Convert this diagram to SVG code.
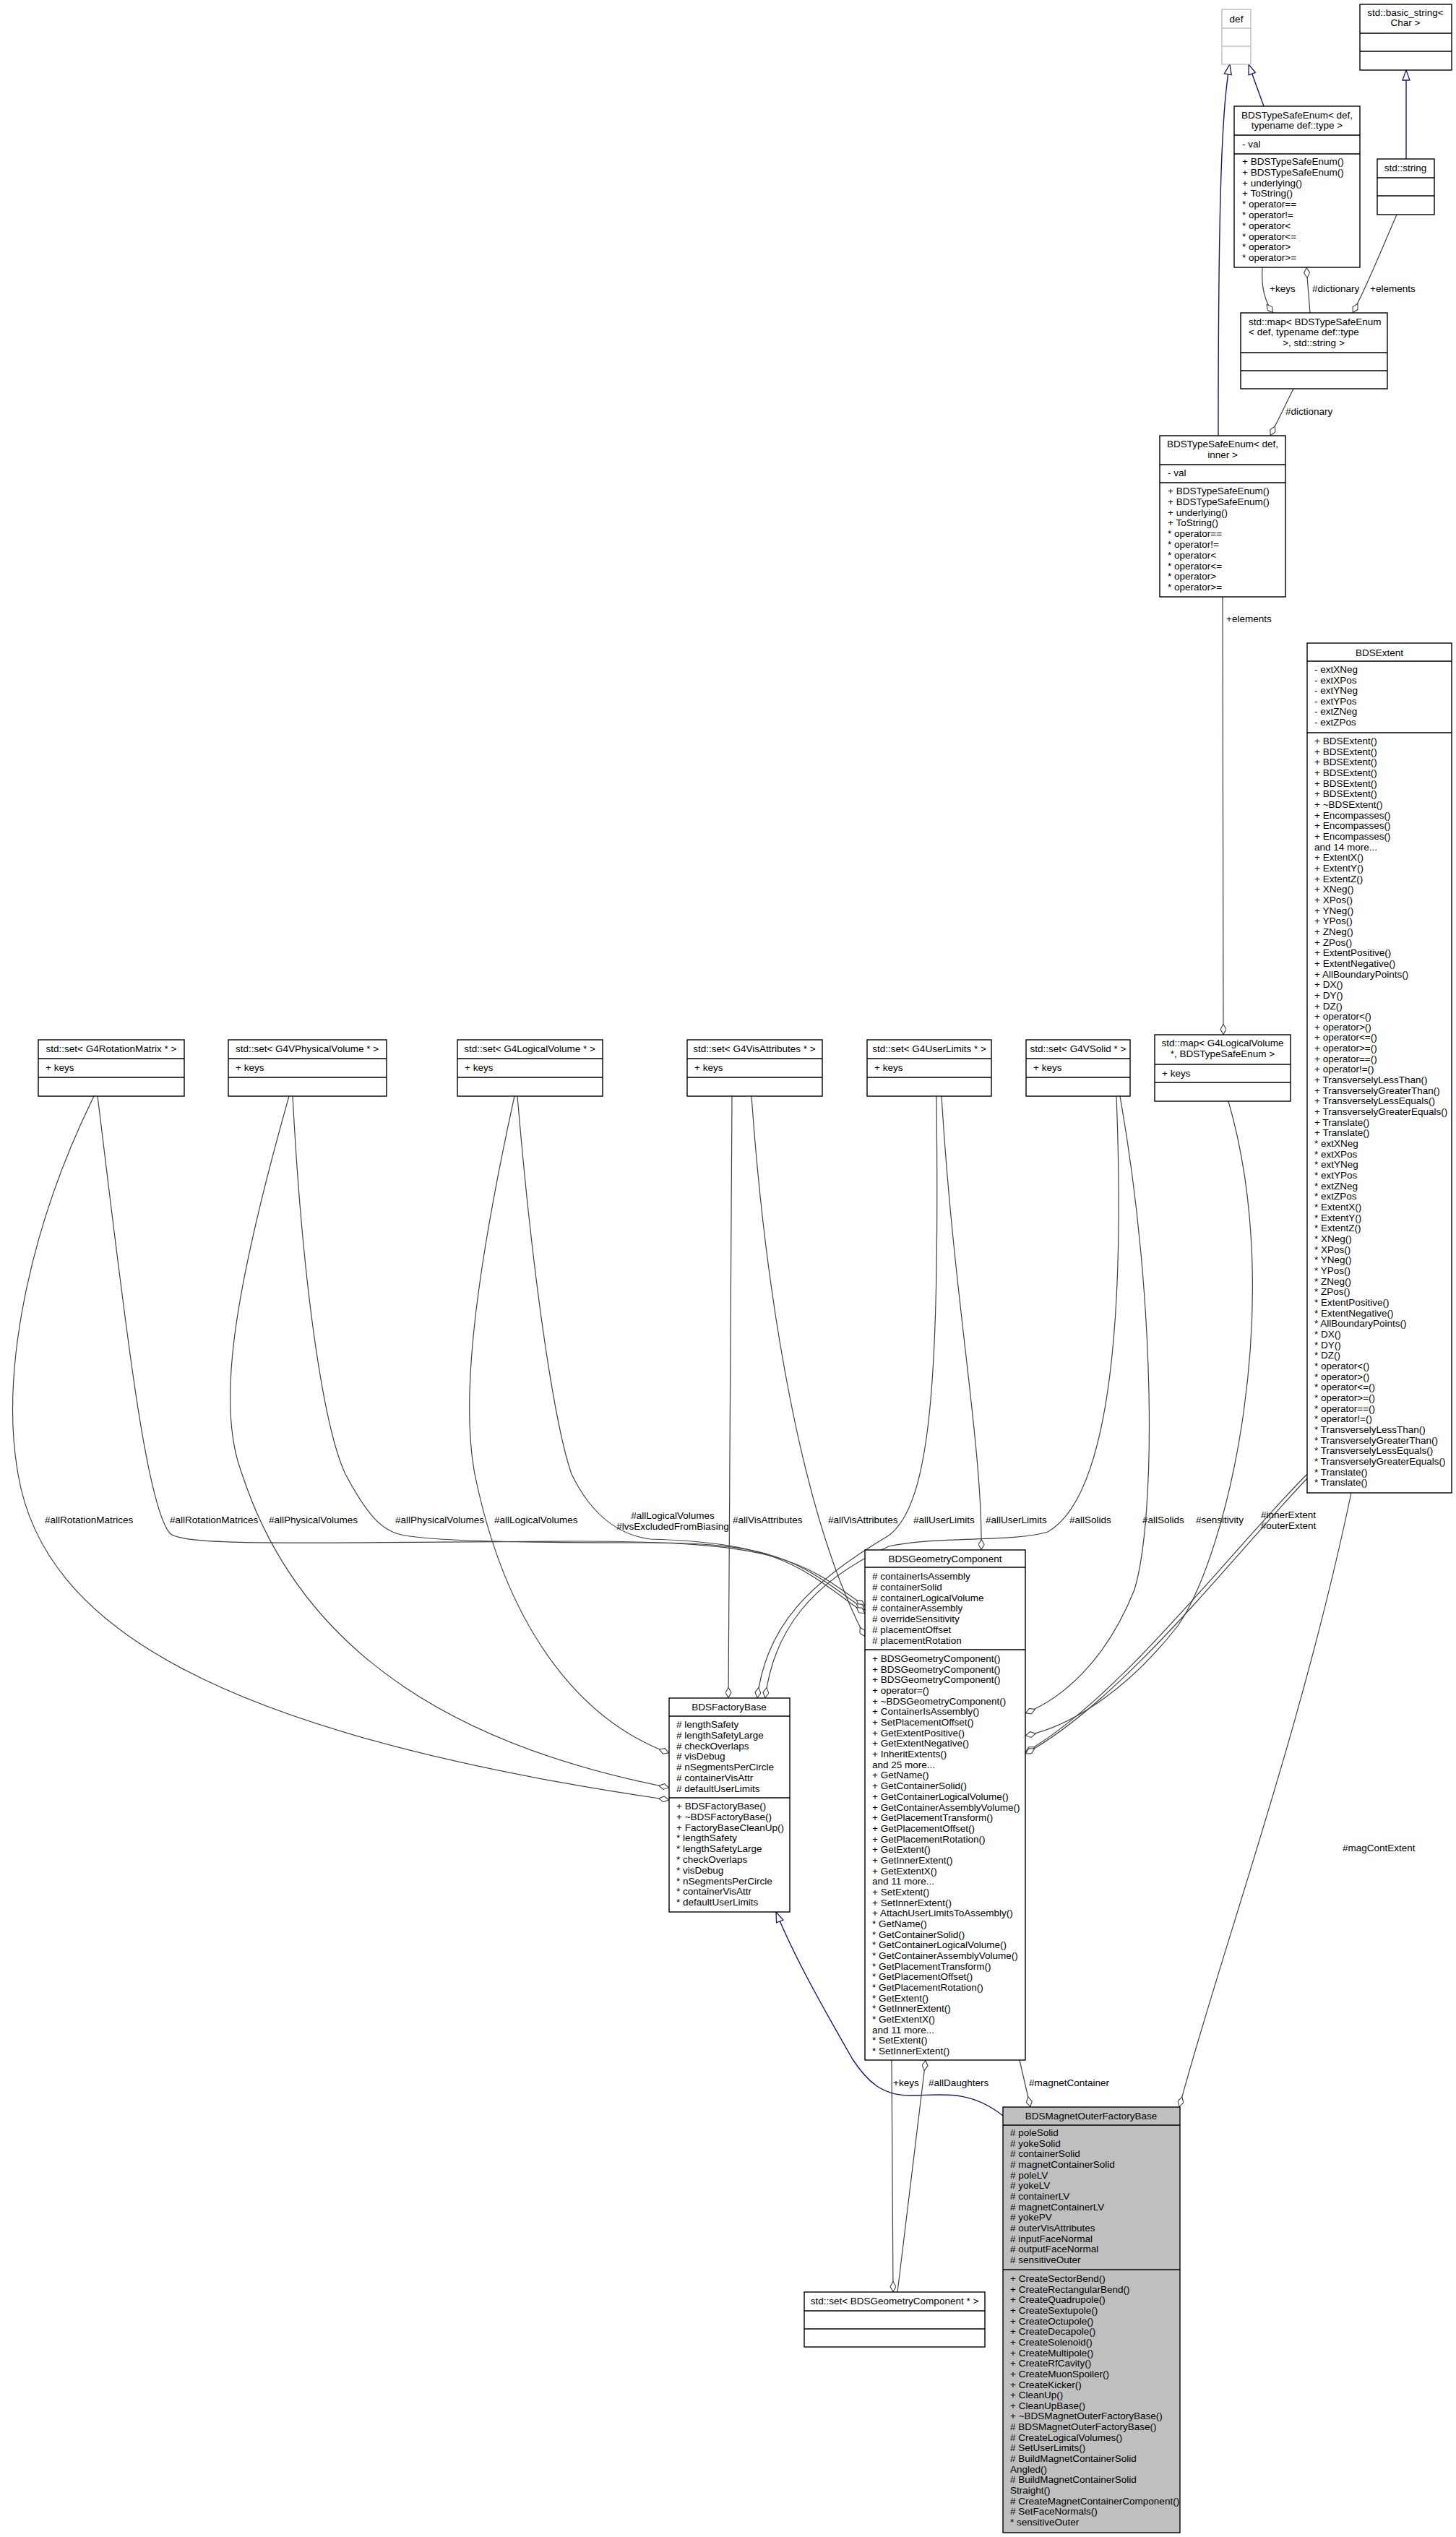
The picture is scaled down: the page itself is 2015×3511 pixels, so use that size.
<svg xmlns="http://www.w3.org/2000/svg" width="2015" height="3511" viewBox="0 0 2015 3511">
<style>
text{font-family:"Liberation Sans",Arial,sans-serif;font-size:13.5px;fill:#000}
.t{text-anchor:middle}
.box{fill:#fff;stroke:#000;stroke-width:1.4}
.gbox{fill:#fff;stroke:#bfbfbf;stroke-width:1.4}
.hl{fill:#bfbfbf;stroke:#000;stroke-width:1.4}
.sep{stroke:#000;stroke-width:1.4}
.gsep{stroke:#bfbfbf;stroke-width:1.4}
.e{fill:none;stroke:#404040;stroke-width:1.2;marker-end:url(#dia)}
.i{fill:none;stroke:#191970;stroke-width:1.4;marker-end:url(#inh)}
</style>
<defs>
<marker id="dia" viewBox="0 0 15 9" refX="15" refY="4.5" markerWidth="15" markerHeight="9" markerUnits="userSpaceOnUse" orient="auto"><path d="M0.5,4.5 L7.5,0.5 L14.5,4.5 L7.5,8.5 z" fill="#fff" stroke="#404040" stroke-width="1.1"/></marker>
<marker id="inh" viewBox="0 0 16 12" refX="15" refY="6" markerWidth="16" markerHeight="12" markerUnits="userSpaceOnUse" orient="auto"><path d="M1,1 L15,6 L1,11 z" fill="#fff" stroke="#191970" stroke-width="1.3"/></marker>
</defs>
<rect width="2015" height="3511" fill="#fff"/>

<g id="connectors">
<path class="i" d="M1749,147 L1728,89"/>
<path class="i" d="M1686,603 C1686,300 1690,150 1702,89"/>
<path class="i" d="M1946,220 L1946,97"/>
<path class="e" d="M1747,370 C1745,400 1752,420 1762,433"/>
<path class="e" d="M1813,433 L1808,370"/>
<path class="e" d="M1933,297 C1910,350 1890,400 1872,433"/>
<path class="e" d="M1790,538 L1758,603"/>
<path class="e" d="M1692,826 L1693,1432"/>
<path class="e" d="M130,1517 C40,1700 0,1900 25,2040 C60,2250 300,2400 926,2491"/>
<path class="e" d="M135,1517 C170,1800 200,2080 235,2122 C255,2140 400,2135 800,2133 C1080,2133 1110,2160 1197,2223"/>
<path class="e" d="M400,1517 C320,1800 300,1950 335,2040 C420,2300 650,2420 926,2474"/>
<path class="e" d="M405,1517 C420,1800 450,1980 478,2040 C510,2100 530,2120 560,2125 C620,2135 800,2135 900,2135 C1080,2135 1110,2165 1197,2228"/>
<path class="e" d="M712,1517 C650,1800 640,1950 657,2040 C700,2250 800,2380 926,2426"/>
<path class="e" d="M716,1517 C740,1800 770,1980 791,2040 C820,2100 860,2125 900,2130 C1080,2135 1110,2170 1197,2233"/>
<path class="e" d="M1013,1517 L1008,2350"/>
<path class="e" d="M1040,1517 C1060,1800 1110,2100 1197,2265"/>
<path class="e" d="M1296,1517 C1300,1900 1290,2080 1230,2125 C1120,2190 1060,2250 1048,2350"/>
<path class="e" d="M1303,1517 C1320,1800 1360,2000 1358,2145"/>
<path class="e" d="M1545,1517 C1560,1900 1520,2080 1450,2120 C1400,2135 1300,2125 1230,2140 C1120,2190 1070,2260 1059,2350"/>
<path class="e" d="M1550,1517 C1600,1800 1600,2100 1570,2200 C1530,2300 1470,2350 1419,2371"/>
<path class="e" d="M1700,1524 C1780,1800 1700,2150 1630,2250 C1560,2340 1480,2390 1419,2402"/>
<path class="e" d="M1809,2040 C1700,2150 1550,2350 1419,2425"/>
<path class="e" d="M1809,2046 C1705,2155 1555,2352 1419,2427"/>
<path class="e" d="M1870,2066 C1800,2400 1690,2700 1632,2916"/>
<path class="e" d="M1411,2851 L1426,2916"/>
<path class="e" d="M1242,3172 L1281,2851"/>
<path class="e" d="M1234,2851 L1236,3172"/>
<path class="i" d="M1388,2928 C1340,2890 1300,2900 1260,2900 C1220,2900 1200,2880 1180,2850 C1140,2780 1100,2710 1074,2646"/>
<text x="1757" y="404">+keys</text>
<text x="1816" y="404">#dictionary</text>
<text x="1896" y="404">+elements</text>
<text x="1779" y="574">#dictionary</text>
<text x="1697" y="861">+elements</text>
<text x="62" y="2108">#allRotationMatrices</text>
<text x="235" y="2108">#allRotationMatrices</text>
<text x="372" y="2108">#allPhysicalVolumes</text>
<text x="547" y="2108">#allPhysicalVolumes</text>
<text x="684" y="2108">#allLogicalVolumes</text>
<text class="t" x="931" y="2102">#allLogicalVolumes</text>
<text class="t" x="931" y="2117">#lvsExcludedFromBiasing</text>
<text x="1014" y="2108">#allVisAttributes</text>
<text x="1146" y="2108">#allVisAttributes</text>
<text x="1264" y="2108">#allUserLimits</text>
<text x="1364" y="2108">#allUserLimits</text>
<text x="1480" y="2108">#allSolids</text>
<text x="1581" y="2108">#allSolids</text>
<text x="1655" y="2108">#sensitivity</text>
<text class="t" x="1783" y="2101">#innerExtent</text>
<text class="t" x="1783" y="2116">#outerExtent</text>
<text x="1858" y="2562">#magContExtent</text>
<text x="1236" y="2887">+keys</text>
<text x="1285" y="2887">#allDaughters</text>
<text x="1424" y="2887">#magnetContainer</text>
</g>

<g id="def">
<rect class="gbox" x="1691" y="13" width="40" height="76"/>
<line class="gsep" x1="1691" y1="39" x2="1731" y2="39"/><line class="gsep" x1="1691" y1="64" x2="1731" y2="64"/>
<text class="t" x="1711" y="31">def</text>
</g>

<g id="basic_string">
<rect class="box" x="1882" y="6" width="127" height="91"/>
<line class="sep" x1="1882" y1="46" x2="2009" y2="46"/><line class="sep" x1="1882" y1="71" x2="2009" y2="71"/>
<text class="t" x="1945" y="22">std::basic_string&lt;</text>
<text class="t" x="1945" y="36">Char &gt;</text>
</g>

<g id="tse_type">
<rect class="box" x="1708" y="147" width="174" height="223"/>
<line class="sep" x1="1708" y1="187" x2="1882" y2="187"/><line class="sep" x1="1708" y1="213" x2="1882" y2="213"/>
<text class="t" x="1795" y="164">BDSTypeSafeEnum&lt; def,</text>
<text class="t" x="1795" y="178">typename def::type &gt;</text>
<text x="1719" y="204">- val</text>
<text x="1719" y="228">+ BDSTypeSafeEnum()</text>
<text x="1719" y="242.8">+ BDSTypeSafeEnum()</text>
<text x="1719" y="257.6">+ underlying()</text>
<text x="1719" y="272.4">+ ToString()</text>
<text x="1719" y="287.2">* operator==</text>
<text x="1719" y="302">* operator!=</text>
<text x="1719" y="316.8">* operator&lt;</text>
<text x="1719" y="331.6">* operator&lt;=</text>
<text x="1719" y="346.4">* operator&gt;</text>
<text x="1719" y="361.2">* operator&gt;=</text>
</g>

<g id="std_string">
<rect class="box" x="1906" y="220" width="79" height="77"/>
<line class="sep" x1="1906" y1="246" x2="1985" y2="246"/><line class="sep" x1="1906" y1="271" x2="1985" y2="271"/>
<text class="t" x="1945" y="237">std::string</text>
</g>

<g id="map_tse_string">
<rect class="box" x="1717" y="433" width="203" height="105"/>
<line class="sep" x1="1717" y1="488" x2="1920" y2="488"/><line class="sep" x1="1717" y1="513" x2="1920" y2="513"/>
<text x="1728" y="450">std::map&lt; BDSTypeSafeEnum</text>
<text x="1728" y="464">&lt; def, typename def::type</text>
<text class="t" x="1818" y="479">&gt;, std::string &gt;</text>
</g>

<g id="tse_inner">
<rect class="box" x="1605" y="603" width="174" height="223"/>
<line class="sep" x1="1605" y1="643" x2="1779" y2="643"/><line class="sep" x1="1605" y1="668" x2="1779" y2="668"/>
<text class="t" x="1692" y="619">BDSTypeSafeEnum&lt; def,</text>
<text class="t" x="1692" y="634">inner &gt;</text>
<text x="1616" y="659">- val</text>
<text x="1616" y="684">+ BDSTypeSafeEnum()</text>
<text x="1616" y="698.8">+ BDSTypeSafeEnum()</text>
<text x="1616" y="713.6">+ underlying()</text>
<text x="1616" y="728.4">+ ToString()</text>
<text x="1616" y="743.2">* operator==</text>
<text x="1616" y="758">* operator!=</text>
<text x="1616" y="772.8">* operator&lt;</text>
<text x="1616" y="787.6">* operator&lt;=</text>
<text x="1616" y="802.4">* operator&gt;</text>
<text x="1616" y="817.2">* operator&gt;=</text>
</g>

<g id="bdsextent">
<rect class="box" x="1809" y="890" width="200" height="1176"/>
<line class="sep" x1="1809" y1="915" x2="2009" y2="915"/><line class="sep" x1="1809" y1="1014" x2="2009" y2="1014"/>
<text class="t" x="1909" y="908">BDSExtent</text>
<text x="1819" y="931">- extXNeg</text>
<text x="1819" y="945.6">- extXPos</text>
<text x="1819" y="960.2">- extYNeg</text>
<text x="1819" y="974.8">- extYPos</text>
<text x="1819" y="989.4">- extZNeg</text>
<text x="1819" y="1004">- extZPos</text>
<text x="1819" y="1030"><tspan x="1819">+ BDSExtent()</tspan><tspan x="1819" dy="14.66">+ BDSExtent()</tspan><tspan x="1819" dy="14.66">+ BDSExtent()</tspan><tspan x="1819" dy="14.66">+ BDSExtent()</tspan><tspan x="1819" dy="14.66">+ BDSExtent()</tspan><tspan x="1819" dy="14.66">+ BDSExtent()</tspan><tspan x="1819" dy="14.66">+ ~BDSExtent()</tspan><tspan x="1819" dy="14.66">+ Encompasses()</tspan><tspan x="1819" dy="14.66">+ Encompasses()</tspan><tspan x="1819" dy="14.66">+ Encompasses()</tspan><tspan x="1819" dy="14.66">and 14 more...</tspan><tspan x="1819" dy="14.66">+ ExtentX()</tspan><tspan x="1819" dy="14.66">+ ExtentY()</tspan><tspan x="1819" dy="14.66">+ ExtentZ()</tspan><tspan x="1819" dy="14.66">+ XNeg()</tspan><tspan x="1819" dy="14.66">+ XPos()</tspan><tspan x="1819" dy="14.66">+ YNeg()</tspan><tspan x="1819" dy="14.66">+ YPos()</tspan><tspan x="1819" dy="14.66">+ ZNeg()</tspan><tspan x="1819" dy="14.66">+ ZPos()</tspan><tspan x="1819" dy="14.66">+ ExtentPositive()</tspan><tspan x="1819" dy="14.66">+ ExtentNegative()</tspan><tspan x="1819" dy="14.66">+ AllBoundaryPoints()</tspan><tspan x="1819" dy="14.66">+ DX()</tspan><tspan x="1819" dy="14.66">+ DY()</tspan><tspan x="1819" dy="14.66">+ DZ()</tspan><tspan x="1819" dy="14.66">+ operator&lt;()</tspan><tspan x="1819" dy="14.66">+ operator&gt;()</tspan><tspan x="1819" dy="14.66">+ operator&lt;=()</tspan><tspan x="1819" dy="14.66">+ operator&gt;=()</tspan><tspan x="1819" dy="14.66">+ operator==()</tspan><tspan x="1819" dy="14.66">+ operator!=()</tspan><tspan x="1819" dy="14.66">+ TransverselyLessThan()</tspan><tspan x="1819" dy="14.66">+ TransverselyGreaterThan()</tspan><tspan x="1819" dy="14.66">+ TransverselyLessEquals()</tspan><tspan x="1819" dy="14.66">+ TransverselyGreaterEquals()</tspan><tspan x="1819" dy="14.66">+ Translate()</tspan><tspan x="1819" dy="14.66">+ Translate()</tspan><tspan x="1819" dy="14.66">* extXNeg</tspan><tspan x="1819" dy="14.66">* extXPos</tspan><tspan x="1819" dy="14.66">* extYNeg</tspan><tspan x="1819" dy="14.66">* extYPos</tspan><tspan x="1819" dy="14.66">* extZNeg</tspan><tspan x="1819" dy="14.66">* extZPos</tspan><tspan x="1819" dy="14.66">* ExtentX()</tspan><tspan x="1819" dy="14.66">* ExtentY()</tspan><tspan x="1819" dy="14.66">* ExtentZ()</tspan><tspan x="1819" dy="14.66">* XNeg()</tspan><tspan x="1819" dy="14.66">* XPos()</tspan><tspan x="1819" dy="14.66">* YNeg()</tspan><tspan x="1819" dy="14.66">* YPos()</tspan><tspan x="1819" dy="14.66">* ZNeg()</tspan><tspan x="1819" dy="14.66">* ZPos()</tspan><tspan x="1819" dy="14.66">* ExtentPositive()</tspan><tspan x="1819" dy="14.66">* ExtentNegative()</tspan><tspan x="1819" dy="14.66">* AllBoundaryPoints()</tspan><tspan x="1819" dy="14.66">* DX()</tspan><tspan x="1819" dy="14.66">* DY()</tspan><tspan x="1819" dy="14.66">* DZ()</tspan><tspan x="1819" dy="14.66">* operator&lt;()</tspan><tspan x="1819" dy="14.66">* operator&gt;()</tspan><tspan x="1819" dy="14.66">* operator&lt;=()</tspan><tspan x="1819" dy="14.66">* operator&gt;=()</tspan><tspan x="1819" dy="14.66">* operator==()</tspan><tspan x="1819" dy="14.66">* operator!=()</tspan><tspan x="1819" dy="14.66">* TransverselyLessThan()</tspan><tspan x="1819" dy="14.66">* TransverselyGreaterThan()</tspan><tspan x="1819" dy="14.66">* TransverselyLessEquals()</tspan><tspan x="1819" dy="14.66">* TransverselyGreaterEquals()</tspan><tspan x="1819" dy="14.66">* Translate()</tspan><tspan x="1819" dy="14.66">* Translate()</tspan></text>
</g>

<g id="map_lv">
<rect class="box" x="1598" y="1432" width="188" height="92"/>
<line class="sep" x1="1598" y1="1473" x2="1786" y2="1473"/><line class="sep" x1="1598" y1="1498" x2="1786" y2="1498"/>
<text class="t" x="1692" y="1448">std::map&lt; G4LogicalVolume</text>
<text class="t" x="1692" y="1463">*, BDSTypeSafeEnum &gt;</text>
<text x="1608" y="1490">+ keys</text>
</g>

<g id="set_rot">
<rect class="box" x="53" y="1439" width="202" height="78"/>
<line class="sep" x1="53" y1="1465" x2="255" y2="1465"/><line class="sep" x1="53" y1="1491" x2="255" y2="1491"/>
<text class="t" x="154" y="1456">std::set&lt; G4RotationMatrix * &gt;</text>
<text x="63" y="1482">+ keys</text>
</g>
<g id="set_pv">
<rect class="box" x="316" y="1439" width="219" height="78"/>
<line class="sep" x1="316" y1="1465" x2="535" y2="1465"/><line class="sep" x1="316" y1="1491" x2="535" y2="1491"/>
<text class="t" x="425" y="1456">std::set&lt; G4VPhysicalVolume * &gt;</text>
<text x="326" y="1482">+ keys</text>
</g>
<g id="set_lv">
<rect class="box" x="633" y="1439" width="201" height="78"/>
<line class="sep" x1="633" y1="1465" x2="834" y2="1465"/><line class="sep" x1="633" y1="1491" x2="834" y2="1491"/>
<text class="t" x="733" y="1456">std::set&lt; G4LogicalVolume * &gt;</text>
<text x="643" y="1482">+ keys</text>
</g>
<g id="set_vis">
<rect class="box" x="951" y="1439" width="187" height="78"/>
<line class="sep" x1="951" y1="1465" x2="1138" y2="1465"/><line class="sep" x1="951" y1="1491" x2="1138" y2="1491"/>
<text class="t" x="1044" y="1456">std::set&lt; G4VisAttributes * &gt;</text>
<text x="961" y="1482">+ keys</text>
</g>
<g id="set_ul">
<rect class="box" x="1200" y="1439" width="172" height="78"/>
<line class="sep" x1="1200" y1="1465" x2="1372" y2="1465"/><line class="sep" x1="1200" y1="1491" x2="1372" y2="1491"/>
<text class="t" x="1286" y="1456">std::set&lt; G4UserLimits * &gt;</text>
<text x="1210" y="1482">+ keys</text>
</g>
<g id="set_solid">
<rect class="box" x="1420" y="1439" width="144" height="78"/>
<line class="sep" x1="1420" y1="1465" x2="1564" y2="1465"/><line class="sep" x1="1420" y1="1491" x2="1564" y2="1491"/>
<text class="t" x="1492" y="1456">std::set&lt; G4VSolid * &gt;</text>
<text x="1430" y="1482">+ keys</text>
</g>

<g id="factorybase">
<rect class="box" x="926" y="2350" width="167" height="296"/>
<line class="sep" x1="926" y1="2375" x2="1093" y2="2375"/><line class="sep" x1="926" y1="2488" x2="1093" y2="2488"/>
<text class="t" x="1009" y="2367">BDSFactoryBase</text>
<text x="936" y="2391"><tspan x="936"># lengthSafety</tspan><tspan x="936" dy="14.8"># lengthSafetyLarge</tspan><tspan x="936" dy="14.8"># checkOverlaps</tspan><tspan x="936" dy="14.8"># visDebug</tspan><tspan x="936" dy="14.8"># nSegmentsPerCircle</tspan><tspan x="936" dy="14.8"># containerVisAttr</tspan><tspan x="936" dy="14.8"># defaultUserLimits</tspan></text>
<text x="936" y="2504"><tspan x="936">+ BDSFactoryBase()</tspan><tspan x="936" dy="14.8">+ ~BDSFactoryBase()</tspan><tspan x="936" dy="14.8">+ FactoryBaseCleanUp()</tspan><tspan x="936" dy="14.8">* lengthSafety</tspan><tspan x="936" dy="14.8">* lengthSafetyLarge</tspan><tspan x="936" dy="14.8">* checkOverlaps</tspan><tspan x="936" dy="14.8">* visDebug</tspan><tspan x="936" dy="14.8">* nSegmentsPerCircle</tspan><tspan x="936" dy="14.8">* containerVisAttr</tspan><tspan x="936" dy="14.8">* defaultUserLimits</tspan></text>
</g>

<g id="geometrycomponent">
<rect class="box" x="1197" y="2145" width="222" height="706"/>
<line class="sep" x1="1197" y1="2169" x2="1419" y2="2169"/><line class="sep" x1="1197" y1="2283" x2="1419" y2="2283"/>
<text class="t" x="1308" y="2162">BDSGeometryComponent</text>
<text x="1207" y="2186"><tspan x="1207"># containerIsAssembly</tspan><tspan x="1207" dy="14.8"># containerSolid</tspan><tspan x="1207" dy="14.8"># containerLogicalVolume</tspan><tspan x="1207" dy="14.8"># containerAssembly</tspan><tspan x="1207" dy="14.8"># overrideSensitivity</tspan><tspan x="1207" dy="14.8"># placementOffset</tspan><tspan x="1207" dy="14.8"># placementRotation</tspan></text>
<text x="1207" y="2300"><tspan x="1207">+ BDSGeometryComponent()</tspan><tspan x="1207" dy="14.68">+ BDSGeometryComponent()</tspan><tspan x="1207" dy="14.68">+ BDSGeometryComponent()</tspan><tspan x="1207" dy="14.68">+ operator=()</tspan><tspan x="1207" dy="14.68">+ ~BDSGeometryComponent()</tspan><tspan x="1207" dy="14.68">+ ContainerIsAssembly()</tspan><tspan x="1207" dy="14.68">+ SetPlacementOffset()</tspan><tspan x="1207" dy="14.68">+ GetExtentPositive()</tspan><tspan x="1207" dy="14.68">+ GetExtentNegative()</tspan><tspan x="1207" dy="14.68">+ InheritExtents()</tspan><tspan x="1207" dy="14.68">and 25 more...</tspan><tspan x="1207" dy="14.68">+ GetName()</tspan><tspan x="1207" dy="14.68">+ GetContainerSolid()</tspan><tspan x="1207" dy="14.68">+ GetContainerLogicalVolume()</tspan><tspan x="1207" dy="14.68">+ GetContainerAssemblyVolume()</tspan><tspan x="1207" dy="14.68">+ GetPlacementTransform()</tspan><tspan x="1207" dy="14.68">+ GetPlacementOffset()</tspan><tspan x="1207" dy="14.68">+ GetPlacementRotation()</tspan><tspan x="1207" dy="14.68">+ GetExtent()</tspan><tspan x="1207" dy="14.68">+ GetInnerExtent()</tspan><tspan x="1207" dy="14.68">+ GetExtentX()</tspan><tspan x="1207" dy="14.68">and 11 more...</tspan><tspan x="1207" dy="14.68">+ SetExtent()</tspan><tspan x="1207" dy="14.68">+ SetInnerExtent()</tspan><tspan x="1207" dy="14.68">+ AttachUserLimitsToAssembly()</tspan><tspan x="1207" dy="14.68">* GetName()</tspan><tspan x="1207" dy="14.68">* GetContainerSolid()</tspan><tspan x="1207" dy="14.68">* GetContainerLogicalVolume()</tspan><tspan x="1207" dy="14.68">* GetContainerAssemblyVolume()</tspan><tspan x="1207" dy="14.68">* GetPlacementTransform()</tspan><tspan x="1207" dy="14.68">* GetPlacementOffset()</tspan><tspan x="1207" dy="14.68">* GetPlacementRotation()</tspan><tspan x="1207" dy="14.68">* GetExtent()</tspan><tspan x="1207" dy="14.68">* GetInnerExtent()</tspan><tspan x="1207" dy="14.68">* GetExtentX()</tspan><tspan x="1207" dy="14.68">and 11 more...</tspan><tspan x="1207" dy="14.68">* SetExtent()</tspan><tspan x="1207" dy="14.68">* SetInnerExtent()</tspan></text>
</g>

<g id="set_gc">
<rect class="box" x="1113" y="3172" width="250" height="76"/>
<line class="sep" x1="1113" y1="3198" x2="1363" y2="3198"/><line class="sep" x1="1113" y1="3223" x2="1363" y2="3223"/>
<text class="t" x="1238" y="3189">std::set&lt; BDSGeometryComponent * &gt;</text>
</g>

<g id="magnetouterfactorybase">
<rect class="hl" x="1388" y="2916" width="245" height="589"/>
<line class="sep" x1="1388" y1="2941" x2="1633" y2="2941"/><line class="sep" x1="1388" y1="3141" x2="1633" y2="3141"/>
<text class="t" x="1510" y="2933">BDSMagnetOuterFactoryBase</text>
<text x="1398" y="2956"><tspan x="1398"># poleSolid</tspan><tspan x="1398" dy="14.67"># yokeSolid</tspan><tspan x="1398" dy="14.67"># containerSolid</tspan><tspan x="1398" dy="14.67"># magnetContainerSolid</tspan><tspan x="1398" dy="14.67"># poleLV</tspan><tspan x="1398" dy="14.67"># yokeLV</tspan><tspan x="1398" dy="14.67"># containerLV</tspan><tspan x="1398" dy="14.67"># magnetContainerLV</tspan><tspan x="1398" dy="14.67"># yokePV</tspan><tspan x="1398" dy="14.67"># outerVisAttributes</tspan><tspan x="1398" dy="14.67"># inputFaceNormal</tspan><tspan x="1398" dy="14.67"># outputFaceNormal</tspan><tspan x="1398" dy="14.67"># sensitiveOuter</tspan></text>
<text x="1398" y="3158"><tspan x="1398">+ CreateSectorBend()</tspan><tspan x="1398" dy="14.65">+ CreateRectangularBend()</tspan><tspan x="1398" dy="14.65">+ CreateQuadrupole()</tspan><tspan x="1398" dy="14.65">+ CreateSextupole()</tspan><tspan x="1398" dy="14.65">+ CreateOctupole()</tspan><tspan x="1398" dy="14.65">+ CreateDecapole()</tspan><tspan x="1398" dy="14.65">+ CreateSolenoid()</tspan><tspan x="1398" dy="14.65">+ CreateMultipole()</tspan><tspan x="1398" dy="14.65">+ CreateRfCavity()</tspan><tspan x="1398" dy="14.65">+ CreateMuonSpoiler()</tspan><tspan x="1398" dy="14.65">+ CreateKicker()</tspan><tspan x="1398" dy="14.65">+ CleanUp()</tspan><tspan x="1398" dy="14.65">+ CleanUpBase()</tspan><tspan x="1398" dy="14.65">+ ~BDSMagnetOuterFactoryBase()</tspan><tspan x="1398" dy="14.65"># BDSMagnetOuterFactoryBase()</tspan><tspan x="1398" dy="14.65"># CreateLogicalVolumes()</tspan><tspan x="1398" dy="14.65"># SetUserLimits()</tspan><tspan x="1398" dy="14.65"># BuildMagnetContainerSolid</tspan><tspan x="1398" dy="14.65">Angled()</tspan><tspan x="1398" dy="14.65"># BuildMagnetContainerSolid</tspan><tspan x="1398" dy="14.65">Straight()</tspan><tspan x="1398" dy="14.65"># CreateMagnetContainerComponent()</tspan><tspan x="1398" dy="14.65"># SetFaceNormals()</tspan><tspan x="1398" dy="14.65">* sensitiveOuter</tspan></text>
</g>
</svg>
